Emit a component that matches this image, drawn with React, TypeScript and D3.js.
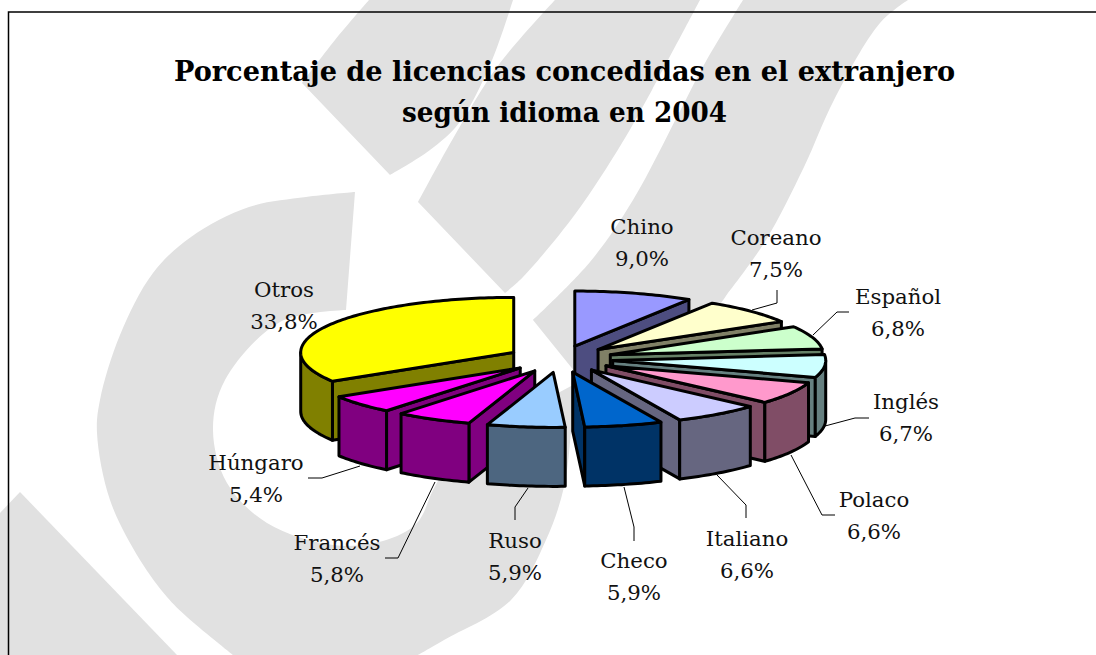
import React from "react";
import * as d3 from "d3";

const categories = ["Chino","Coreano","Español","Inglés","Polaco","Italiano","Checo","Ruso","Francés","Húngaro","Otros"];
const values = [9.0,7.5,6.8,6.7,6.6,6.6,5.9,5.9,5.8,5.4,33.8];
const topColors = ["#9999FF","#FFFFCC","#CCFFCC","#CCFFFF","#FF99CC","#CCCCFF","#0066CC","#99CCFF","#FF00FF","#FF00FF","#FFFF00"];
const sideColors = ["#4D4D80","#808066","#668066","#668080","#804D66","#666680","#003366","#4D6680","#800080","#800080","#808000"];
const titleLines = ["Porcentaje de licencias concedidas en el extranjero","según idioma en 2004"];

// layout
const CX = 560, CY = 359, RX = 213, RY = 55, DEPTH = 59, EX = 53, EY = 13.5;
const labelPos: [number, number][] = [[642,234],[776,245],[898,304],[906,409],[874,507],[747,546],[634,568],[515,548],[337,550],[256,470],[284,297]];
const leaders: [number, number][][] = [
  [],
  [[777,290],[777,303],[752,310]],
  [[849,312],[837,312],[813,335]],
  [[869,418],[855,418],[825,426]],
  [[835,515],[822,515],[791,455]],
  [[746,518],[746,505],[717,475]],
  [[634,541],[634,527],[624,487]],
  [[515,520],[515,507],[528,488]],
  [[385,558],[398,558],[435,482]],
  [[308,478],[322,478],[360,466]],
  [],
];
const GRAY = "#e1e1e1";
// Each watermark shape is a list of edges; edges are curved inside, corners stay sharp.
const watermark: [number, number][][][] = [
  [
    [[369,0],[335,40],[302,83]],
    [[302,83],[390,175]],
    [[390,175],[430,150],[459,123],[490,65],[513,0]],
  ],
  [
    [[555,0],[497,67],[455,135],[418,202]],
    [[418,202],[505,293]],
    [[505,293],[523,277],[576,213],[622,143],[652,90],[700,0]],
  ],
  [
    [[743,0],[705,63],[679,113],[633,200],[590,262],[533,320]],
    [[533,320],[575,372]],
    [[575,372],[690,335],[728,293]],
    [[728,293],[766,240],[804,167],[834,100],[880,23],[908,0]],
  ],
  [
    [[20,492],[0,513],[0,655],[177,655]],
  ],
  [
    [[355,192],[306,197],[249,207],[191,237],[153,273],[120,335],[100,400],[97,433],[110,500],[140,560],[167,597],[187,617],[233,655]],
    [[233,655],[418,655]],
    [[418,655],[444,640],[511,600],[546,540],[564,487],[571,430],[573,385]],
    [[573,385],[470,440]],
    [[470,440],[445,470],[433,490],[417,523],[383,541],[333,545],[267,523],[227,483],[213,430],[225,380],[280,322],[346,310]],
    [[346,310],[355,192]],
  ],
];

const FONT = "'DejaVu Serif', serif";

const pie = d3.pie<number>().sort(null).value(d => d).startAngle(0).endAngle(2 * Math.PI);
const smooth = d3.line<[number, number]>().curve(d3.curveCatmullRom.alpha(0.5));
const straight = d3.line<[number, number]>();

function shapePath(edges: [number, number][][]): string {
  return edges.map((e, k) => {
    const d = (e.length > 2 && edges.length > 1 ? smooth(e) : straight(e))!;
    return k === 0 ? d : "L" + d.slice(1);
  }).join("") + "Z";
}

function arcPts(cx: number, cy: number, a0: number, a1: number, dy = 0): [number, number][] {
  const n = Math.max(2, Math.ceil(Math.abs(a1 - a0) / 0.02));
  const t = d3.scaleLinear().domain([0, n]).range([a0, a1]);
  return d3.range(n + 1).map(i => {
    const a = t(i);
    return [cx + RX * Math.sin(a), cy - RY * Math.cos(a) + dy] as [number, number];
  });
}

export default function App() {
  const arcs = pie(values);
  const slices = arcs.map((a, i) => {
    const mid = (a.startAngle + a.endAngle) / 2;
    return {
      i, mid, a0: a.startAngle, a1: a.endAngle,
      cx: CX + EX * Math.sin(mid),
      cy: CY - EY * Math.cos(mid),
    };
  });
  const order = slices.slice().sort((p, q) => Math.cos(q.mid) - Math.cos(p.mid));
  const sw = 3;
  const common = { stroke: "#000", strokeWidth: sw, strokeLinejoin: "round" as const };

  return (
    <svg width={1096} height={655} style={{ position: "absolute", left: 0, top: 0, background: "#fff" }}>
      {watermark.map((w, k) => <path key={k} d={shapePath(w)} fill={GRAY} />)}
      <path d="M1096,12H8.5V655" fill="none" stroke="#000" strokeWidth={1.5} />

      {titleLines.map((t, k) => (
        <text key={k} x={564.5} y={[81,122][k]} textAnchor="middle" fontFamily={FONT} fontWeight={700} fontSize={27} fill="#000" textLength={k === 0 ? 781 : 325} lengthAdjust="spacingAndGlyphs">{t}</text>
      ))}

      {leaders.map((l, k) => l.length ? <path key={k} d={straight(l)!} fill="none" stroke="#000" strokeWidth={1} /> : null)}

      {order.map(s => {
        const walls: React.ReactNode[] = [];
        const side = sideColors[s.i];
        const radial = (a: number, key: string) => {
          const [p] = arcPts(s.cx, s.cy, a, a + 0.1);
          const q: [number, number][] = [[s.cx, s.cy], p, [p[0], p[1] + DEPTH], [s.cx, s.cy + DEPTH]];
          walls.push(<path key={key} d={straight(q)! + "Z"} fill={side} {...common} />);
        };
        if (Math.sin(s.a1) > 0) radial(s.a1, "e");
        if (Math.sin(s.a0) < 0) radial(s.a0, "s");
        const lo = Math.max(s.a0, Math.PI / 2), hi = Math.min(s.a1, 1.5 * Math.PI);
        if (hi > lo) {
          const top = arcPts(s.cx, s.cy, lo, hi);
          const bottom = arcPts(s.cx, s.cy, hi, lo, DEPTH);
          walls.push(<path key="o" d={straight([...top, ...bottom])! + "Z"} fill={side} {...common} />);
        }
        const face: [number, number][] = [[s.cx, s.cy], ...arcPts(s.cx, s.cy, s.a0, s.a1)];
        return (
          <g key={s.i}>
            {walls}
            <path d={straight(face)! + "Z"} fill={topColors[s.i]} {...common} />
          </g>
        );
      })}

      {categories.map((c, i) => (
        <g key={c} fontFamily={FONT} fontSize={21.3} textAnchor="middle" fill="#111">
          <text x={labelPos[i][0]} y={labelPos[i][1]}>{c}</text>
          <text x={labelPos[i][0]} y={labelPos[i][1] + 32}>{values[i].toFixed(1).replace(".", ",")}%</text>
        </g>
      ))}
    </svg>
  );
}
